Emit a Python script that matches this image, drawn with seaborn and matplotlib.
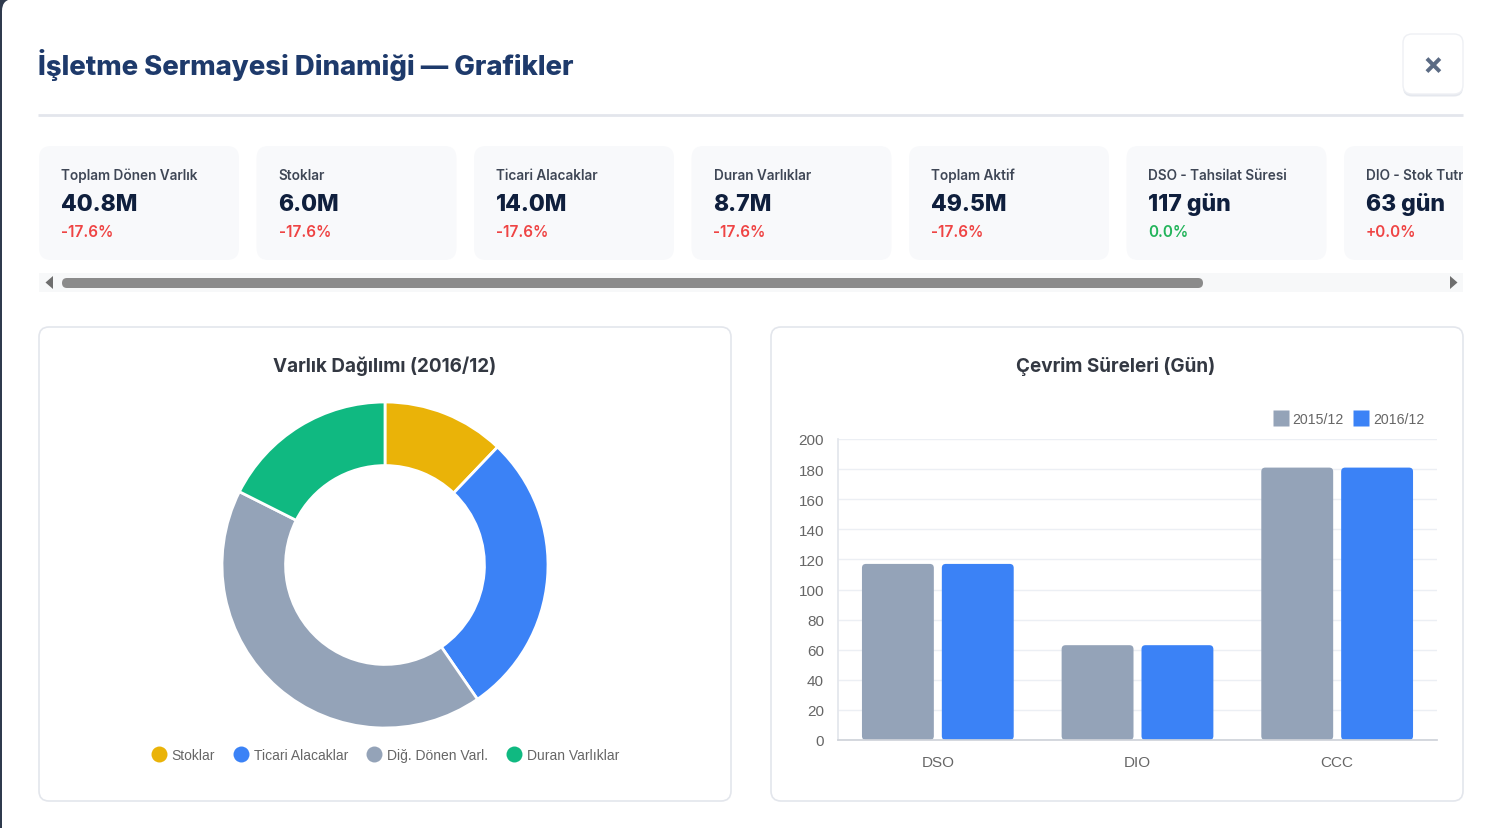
import matplotlib
matplotlib.use("Agg")
import matplotlib.pyplot as plt
import pandas as pd
import seaborn as sns
from matplotlib.lines import Line2D
from matplotlib.patches import FancyBboxPatch, Polygon, Rectangle

W, H = 1501, 829

TITLE = "İşletme Sermayesi Dinamiği — Grafikler"

kpi_labels = ["Toplam Dönen Varlık", "Stoklar", "Ticari Alacaklar", "Duran Varlıklar",
              "Toplam Aktif", "DSO - Tahsilat Süresi", "DIO - Stok Tutma Süresi"]
kpi_values = ["40.8M", "6.0M", "14.0M", "8.7M", "49.5M", "117 gün", "63 gün"]
kpi_changes = ["-17.6%", "-17.6%", "-17.6%", "-17.6%", "-17.6%", "0.0%", "+0.0%"]
kpi_positive = [False, False, False, False, False, True, False]

asset_title = "Varlık Dağılımı (2016/12)"
asset_labels = ["Stoklar", "Ticari Alacaklar", "Diğ. Dönen Varl.", "Duran Varlıklar"]
asset_values = [6.0, 14.0, 20.8, 8.7]
asset_colors = ["#eab308", "#3b82f6", "#94a3b8", "#10b981"]

cycle_title = "Çevrim Süreleri (Gün)"
cycle_metrics = ["DSO", "DIO", "CCC"]
periods = ["2015/12", "2016/12"]
cycle_2015 = [117, 63, 181]
cycle_2016 = [117, 63, 181]
period_colors = ["#94a3b8", "#3b82f6"]

sns.set_theme(style="white")
plt.rcParams["font.family"] = ["Inter", "DejaVu Sans"]

NAVY = "#1e3a6b"
CHART_FONT = ["Liberation Sans", "DejaVu Sans"]


def fig_rect(x0, y0, x1, y1):
    # pixel box (top-left origin) -> figure fraction [left, bottom, width, height]
    return [x0 / W, 1 - y1 / H, (x1 - x0) / W, (y1 - y0) / H]


fig = plt.figure(figsize=(W / 100, H / 100), dpi=100)

# background layer in pixel coordinates
bg = fig.add_axes([0, 0, 1, 1])
bg.set_xlim(0, W)
bg.set_ylim(H, 0)
bg.axis("off")
bg.set_zorder(0)
bg.add_patch(Rectangle((0, 0), W, H, facecolor="#2f3a4d", edgecolor="none"))
bg.add_patch(FancyBboxPatch((2, 0), W + 40, H + 40, boxstyle="round,pad=0,rounding_size=12",
                            facecolor="white", edgecolor="none"))

bg.text(38, 65, TITLE, fontsize=19.8, fontweight="heavy", color=NAVY, va="center", ha="left")
bg.plot([38, 1463], [116, 116], color="#e3e6ec", lw=2, solid_capstyle="butt")

# close button
bg.add_patch(FancyBboxPatch((1403, 37.5), 60, 60, boxstyle="round,pad=0,rounding_size=9",
                            facecolor="#dfe3ea", edgecolor="none", alpha=0.8))
bg.add_patch(FancyBboxPatch((1403, 35), 60, 60, boxstyle="round,pad=0,rounding_size=9",
                            facecolor="white", edgecolor="#eef0f4", lw=1))
bg.text(1433, 66, "×", fontsize=22, fontweight="bold", color="#5b6b84", ha="center", va="center")

# scrollbar
bg.add_patch(Rectangle((39, 274), 1424, 19, facecolor="#f7f8f9", edgecolor="none"))
bg.add_patch(FancyBboxPatch((62, 279), 1141, 10, boxstyle="round,pad=0,rounding_size=5",
                            facecolor="#8b8b8b", edgecolor="none"))
bg.add_patch(Polygon([[53, 277], [53, 290], [45.5, 283.5]], closed=True, facecolor="#6e6e6e",
                     edgecolor="none"))
bg.add_patch(Polygon([[1450, 277], [1450, 290], [1457.5, 283.5]], closed=True, facecolor="#6e6e6e",
                     edgecolor="none"))

# panels
for x0 in (39, 771):
    bg.add_patch(FancyBboxPatch((x0, 328), 692, 474, boxstyle="round,pad=0,rounding_size=10",
                                facecolor="white", edgecolor="#e3e6ec", lw=1.2))
bg.text(385, 366, asset_title, fontsize=13.6, fontweight="bold", color="#333842",
        ha="center", va="center")
bg.text(1116, 366, cycle_title, fontsize=13.6, fontweight="bold", color="#333842",
        ha="center", va="center")

# KPI cards (clipped strip, last card runs off the edge as in the scroller)
cards = fig.add_axes(fig_rect(39, 147, 1463, 262))
cards.set_xlim(39, 1463)
cards.set_ylim(262, 147)
cards.axis("off")
step = 217.5
for i, (lab, val, chg, pos) in enumerate(zip(kpi_labels, kpi_values, kpi_changes, kpi_positive)):
    x0 = 39 + i * step
    cards.add_patch(FancyBboxPatch((x0, 147), 200, 114, boxstyle="round,pad=0,rounding_size=12",
                                   facecolor="#f8f9fb", edgecolor="none", clip_on=True))
    cards.text(x0 + 22, 176, lab, fontsize=9.8, fontweight="semibold", color="#3f4756",
               va="center", clip_on=True)
    cards.text(x0 + 22, 205, val, fontsize=16.6, fontweight="heavy", color="#0f1f3d",
               va="center", clip_on=True)
    cards.text(x0 + 22, 233, chg, fontsize=11, fontweight="semibold",
               color="#22b45a" if pos else "#ef4444", va="center", clip_on=True)

# donut chart
ax_pie = fig.add_axes(fig_rect(222, 403, 548, 729))
ax_pie.pie(asset_values, colors=asset_colors, startangle=90, counterclock=False,
           wedgeprops=dict(width=0.39, edgecolor="white", linewidth=2))
ax_pie.set_xlim(-1.0, 1.0)
ax_pie.set_ylim(-1.0, 1.0)
ax_pie.set_aspect("equal")
ax_pie.axis("off")

pie_handles = [Line2D([], [], marker="o", linestyle="none", markersize=11.5,
                      markerfacecolor=c, markeredgecolor="none") for c in asset_colors]
fig.legend(pie_handles, asset_labels, loc="center", bbox_to_anchor=(385 / W, 1 - 756 / H),
           ncol=4, frameon=False, handletextpad=0.35, columnspacing=1.25, handlelength=1.2,
           prop={"family": CHART_FONT, "size": 10}, labelcolor="#666666")

# bar chart
cycle_df = pd.DataFrame({
    "metric": cycle_metrics * 2,
    "days": cycle_2015 + cycle_2016,
    "period": [periods[0]] * 3 + [periods[1]] * 3,
})
ax_bar = fig.add_axes(fig_rect(838, 440, 1437, 741))
sns.barplot(data=cycle_df, x="metric", y="days", hue="period", palette=period_colors,
            saturation=1, width=0.8, gap=0.1, legend=False, ax=ax_bar)
ax_bar.set_ylim(0, 200)
ax_bar.set_xlim(-0.5, 2.5)
ax_bar.set_yticks(range(0, 201, 20))
ax_bar.set_xlabel("")
ax_bar.set_ylabel("")
ax_bar.grid(axis="y", color="#eceff4", lw=1)
ax_bar.set_axisbelow(True)
for side in ("top", "right"):
    ax_bar.spines[side].set_visible(False)
ax_bar.spines["left"].set_color("#e3e6ec")
ax_bar.spines["bottom"].set_color("#cfd3da")
ax_bar.tick_params(axis="y", length=7, color="#eceff4", pad=3, labelsize=11, labelcolor="#666666")
ax_bar.tick_params(axis="x", length=0, pad=11, labelsize=11, labelcolor="#666666")
for lbl in ax_bar.get_xticklabels() + ax_bar.get_yticklabels():
    lbl.set_family(CHART_FONT)

# round bar corners like the web chart
px_x = (ax_bar.transData.transform((1, 0))[0] - ax_bar.transData.transform((0, 0))[0])
px_y = (ax_bar.transData.transform((0, 1))[1] - ax_bar.transData.transform((0, 0))[1])
radius = 4 / px_x
for bar in list(ax_bar.patches):
    x, y = bar.get_xy()
    rb = FancyBboxPatch((x, y), bar.get_width(), bar.get_height(),
                        boxstyle=f"round,pad=0,rounding_size={radius}",
                        mutation_aspect=px_x / px_y, facecolor=bar.get_facecolor(),
                        edgecolor="none")
    bar.remove()
    ax_bar.add_patch(rb)

bar_handles = [Line2D([], [], marker="s", linestyle="none", markersize=12,
                      markerfacecolor=c, markeredgecolor="none") for c in period_colors]
ax_bar.legend(bar_handles, periods, loc="center right", bbox_to_anchor=(1.0, 1.066),
              ncol=2, frameon=False, handletextpad=0.35, columnspacing=0.7, handlelength=1.0,
              prop={"family": CHART_FONT, "size": 10.2}, labelcolor="#666666")

fig.savefig("out.png", dpi=100)
